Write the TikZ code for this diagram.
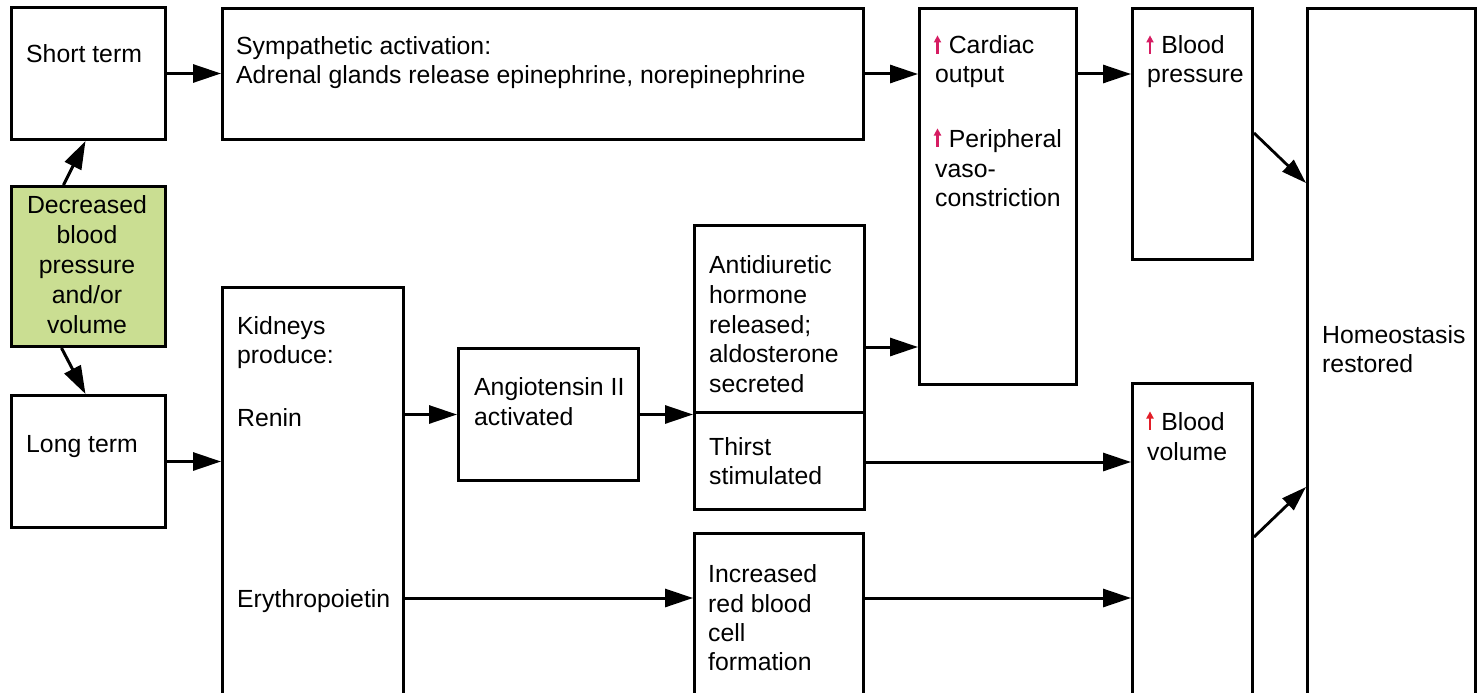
\documentclass[tikz,border=0pt]{standalone}
\usepackage{fontspec}
\setmainfont{Liberation Sans}
\usetikzlibrary{arrows.meta,calc}
\definecolor{greenfill}{RGB}{202,222,146}
\definecolor{pinkup}{RGB}{214,28,98}
\definecolor{redup}{RGB}{226,30,40}
\newcommand\upar[1]{\tikz[baseline=0pt,x=1pt,y=1pt]{\fill[#1] (-1.3,0) rectangle (1.3,12.5); \fill[#1] (-3.8,11.5) -- (3.8,11.5) -- (0,18.5) -- cycle;}\hspace{7.5pt}}
\tikzset{
  box/.style={draw=black, line width=3pt, rectangle, inner sep=0pt, anchor=north west},
  txt/.style={inner sep=0pt, anchor=base west, font=\fontsize{24.8}{29.8}\selectfont},
  ctxt/.style={inner sep=0pt, anchor=base, font=\fontsize{24.8}{29.8}\selectfont},
  arr/.style={line width=3pt, -{Triangle[length=28pt,width=18pt]}},
  darr/.style={line width=2.8pt, -{Triangle[length=25pt,width=16pt]}},
  divline/.style={line width=3pt}
}
\begin{document}
\begin{tikzpicture}[x=1pt,y=-1pt]
\useasboundingbox (0,0) rectangle (1481,693);
\fill[white] (0,0) rectangle (1481,693);
% boxes
\node[box, minimum width=154, minimum height=132] (short) at (10,6) {};
\node[box, minimum width=641, minimum height=131] (symp) at (221,7) {};
\node[box, minimum width=157, minimum height=376] (card) at (918,7) {};
\node[box, minimum width=120, minimum height=251] (bp) at (1131,7) {};
\node[box, minimum width=168, minimum height=713] (homeo) at (1306,7) {};
\node[box, fill=greenfill, minimum width=154, minimum height=160] (green) at (10,185) {};
\node[box, minimum width=154, minimum height=132] (long) at (10,394) {};
\node[box, minimum width=181, minimum height=434] (kid) at (221,286) {};
\node[box, minimum width=180, minimum height=132] (ang) at (457,347) {};
\node[box, minimum width=170, minimum height=284] (adh) at (693,224) {};
\node[box, minimum width=169, minimum height=188] (rbc) at (693,532) {};
\node[box, minimum width=120, minimum height=338] (bv) at (1131,382) {};
\draw[divline] ($(adh.north west)+(0,188.5)$) -- ($(adh.north east)+(0,188.5)$);
% texts
\node[txt] (tshort) at (26,63) {Short term};
\node[txt] (tsymp1) at (236,55) {Sympathetic activation:};
\node[txt] (tsymp2) at (236,84) {Adrenal glands release epinephrine, norepinephrine};
\node[txt] (tcard1) at (933.5,54) {\upar{pinkup}Cardiac};
\node[txt] (tcard2) at (935,83) {output};
\node[txt] (tcard3) at (933.5,147) {\upar{pinkup}Peripheral};
\node[txt] (tcard4) at (935,177) {vaso-};
\node[txt] (tcard5) at (935,206) {constriction};
\node[txt] (tbp1) at (1146,54) {\upar{pinkup}Blood};
\node[txt] (tbp2) at (1147,83) {pressure};
\node[txt] (thomeo1) at (1322,343) {Homeostasis};
\node[txt] (thomeo2) at (1322,372) {restored};
\node[ctxt] (tg1) at (87,213) {Decreased};
\node[ctxt] (tg2) at (87,243) {blood};
\node[ctxt] (tg3) at (87,273) {pressure};
\node[ctxt] (tg4) at (87,303) {and/or};
\node[ctxt] (tg5) at (87,333) {volume};
\node[txt] (tlong) at (26,452) {Long term};
\node[txt] (tkid1) at (237,334) {Kidneys};
\node[txt] (tkid2) at (237,363) {produce:};
\node[txt] (tkid3) at (237,426) {Renin};
\node[txt] (tkid4) at (237,607) {Erythropoietin};
\node[txt] (tang1) at (474,395) {Angiotensin II};
\node[txt] (tang2) at (474,425) {activated};
\node[txt] (tadh1) at (709,273) {Antidiuretic};
\node[txt] (tadh2) at (709,303) {hormone};
\node[txt] (tadh3) at (709,333) {released;};
\node[txt] (tadh4) at (709,362) {aldosterone};
\node[txt] (tadh5) at (709,392) {secreted};
\node[txt] (tthirst1) at (709,455) {Thirst};
\node[txt] (tthirst2) at (709,484) {stimulated};
\node[txt] (trbc1) at (708,582) {Increased};
\node[txt] (trbc2) at (708,612) {red blood};
\node[txt] (trbc3) at (708,641) {cell};
\node[txt] (trbc4) at (708,670) {formation};
\node[txt] (tbv1) at (1146,430) {\upar{redup}Blood};
\node[txt] (tbv2) at (1147,460) {volume};
% helper coordinates on box edges
\coordinate (adhout) at ($(adh.north east)+(0,123)$);
\coordinate (thirstout) at ($(adh.south east)+(0,-49)$);
\coordinate (eryin) at ($(rbc.north west)+(0,66)$);
\coordinate (bpout) at ($(bp.north east)+(0,126)$);
\coordinate (hin1) at ($(homeo.north west)+(0,176)$);
\coordinate (bvout) at ($(bv.north east)+(0,155)$);
\coordinate (hin2) at ($(homeo.north west)+(0,480)$);
% connectors
\draw[arr] ([xshift=-25pt]green.north) -- ([xshift=-3pt]short.south);
\draw[arr] ([xshift=-27pt]green.south) -- ([xshift=-3pt]long.north);
\draw[arr] (short.east) -- (short.east -| symp.west);
\draw[arr] (symp.east) -- (symp.east -| card.west);
\draw[arr] (card.east |- symp.east) -- (bp.west |- symp.east);
\draw[darr] (bpout) -- (hin1);
\draw[arr] (long.east) -- (long.east -| kid.west);
\draw[arr] (kid.east |- ang.west) -- (ang.west);
\draw[arr] (ang.east) -- (ang.east -| adh.west);
\draw[arr] (adhout) -- (adhout -| card.west);
\draw[arr] (thirstout) -- (thirstout -| bv.west);
\draw[arr] (kid.east |- eryin) -- (eryin);
\draw[arr] (rbc.east |- eryin) -- (bv.west |- eryin);
\draw[darr] (bvout) -- (hin2);
\end{tikzpicture}
\end{document}
